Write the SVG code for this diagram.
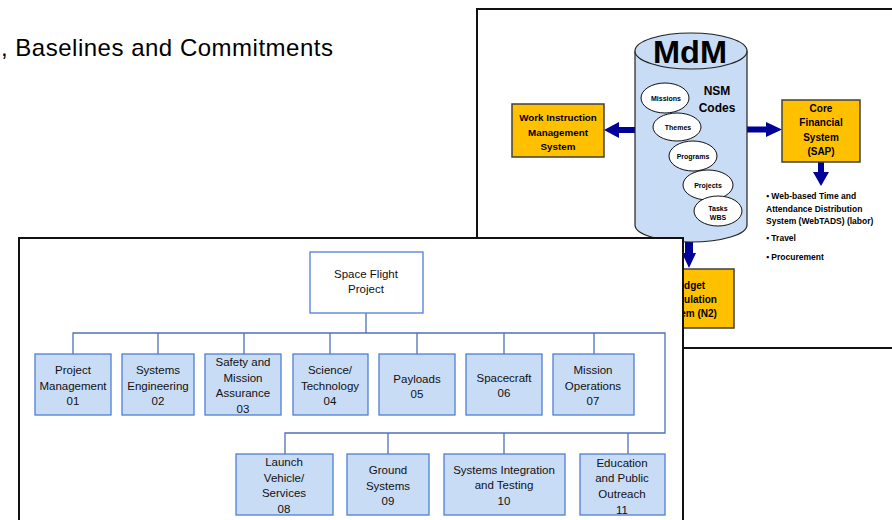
<svg xmlns="http://www.w3.org/2000/svg" width="892" height="520" viewBox="0 0 892 520">
<defs>
<style>
.bg{font-family:"Liberation Sans",Arial,sans-serif;fill:#000}
.panel{fill:#fff;stroke:#111;stroke-width:2}
.gold{fill:#FFC000;stroke:#404040;stroke-width:1.5}
.gt{font-family:"Liberation Sans",Arial,sans-serif;font-weight:bold;font-size:10px;fill:#000;text-anchor:middle}
.ell{fill:#fff;stroke:#111;stroke-width:1}
.et{font-family:"Liberation Sans",Arial,sans-serif;font-weight:bold;font-size:7px;fill:#000;text-anchor:middle}
.arr{fill:#000099}
.bul{font-family:"Liberation Sans",Arial,sans-serif;font-weight:bold;font-size:8.5px;fill:#000}
.ob{fill:#C9DCF6;stroke:#4F7FD6;stroke-width:1.3}
.ot{font-family:"Liberation Sans",Arial,sans-serif;font-size:11.5px;fill:#111;text-anchor:middle}
.conn{fill:none;stroke:#4F72B8;stroke-width:1.3}
</style>
<clipPath id="budgetClip"><rect x="684" y="240" width="80" height="100"/></clipPath>
</defs>

<text class="bg" x="1" y="56" font-size="24" textLength="332" lengthAdjust="spacing">, Baselines and Commitments</text>

<g id="mdm-panel">
<rect class="panel" x="477" y="9" width="430" height="339"/>

<g id="budget" clip-path="url(#budgetClip)">
<rect class="gold" x="642" y="269" width="92" height="59"/>
<text class="gt" x="688" y="288.5">Budget</text>
<text class="gt" x="688" y="302.5">Formulation</text>
<text class="gt" x="688" y="316.5">System (N2)</text>
</g>

<g id="arrows">
<path class="arr" d="M635,127 L619,127 L619,122 L604,130 L619,138 L619,133 L635,133 Z"/>
<path class="arr" d="M747,126.5 L766,126.5 L766,122 L782,129.5 L766,137 L766,132.5 L747,132.5 Z"/>
<path class="arr" d="M818,162 L818,172 L813,172 L821,186 L829,172 L824,172 L824,162 Z"/>
<path class="arr" d="M685,238 L685,253 L682,253 L689,268 L696,253 L693,253 L693,238 Z"/>
</g>

<g id="mdm">
<path d="M635,51 L635,225 A56,17 0 0 0 747,225 L747,51" fill="#C9DCF6" stroke="#222" stroke-width="1.2"/>
<ellipse cx="691" cy="51" rx="56" ry="18" fill="#C9DCF6" stroke="#222" stroke-width="1.2"/>
<text x="690" y="63" font-family="'Liberation Sans',Arial,sans-serif" font-weight="bold" font-size="32" text-anchor="middle" textLength="74" lengthAdjust="spacingAndGlyphs">MdM</text>
<text class="gt" x="717" y="94.5" style="font-size:12px">NSM</text>
<text class="gt" x="717" y="111.5" style="font-size:12px">Codes</text>
</g>

<g id="missions"><ellipse class="ell" cx="665" cy="98" rx="24" ry="15"/><text class="et" x="666" y="100.5">Missions</text></g>
<g id="themes"><ellipse class="ell" cx="677" cy="127" rx="24" ry="14"/><text class="et" x="678" y="129.5">Themes</text></g>
<g id="programs"><ellipse class="ell" cx="693" cy="156" rx="24" ry="15"/><text class="et" x="693" y="158.5">Programs</text></g>
<g id="projects"><ellipse class="ell" cx="708" cy="185" rx="25" ry="15"/><text class="et" x="708" y="187.5">Projects</text></g>
<g id="tasks"><ellipse class="ell" cx="718" cy="211" rx="24" ry="15"/><text class="et" x="718" y="211">Tasks</text><text class="et" x="718" y="219.5">WBS</text></g>

<g id="wims">
<rect class="gold" x="512" y="104" width="92" height="53"/>
<text class="gt" x="558" y="120.5" style="font-size:9.8px">Work Instruction</text>
<text class="gt" x="558" y="135.5" style="font-size:9.8px">Management</text>
<text class="gt" x="558" y="149.5" style="font-size:9.8px">System</text>
</g>

<g id="sap">
<rect class="gold" x="782" y="100" width="78" height="62"/>
<text class="gt" x="821" y="111.5">Core</text>
<text class="gt" x="821" y="125.5">Financial</text>
<text class="gt" x="821" y="140.5">System</text>
<text class="gt" x="821" y="154.5">(SAP)</text>
</g>

<g id="sap-list">
<text class="bul" x="766" y="199">▪ Web-based Time and</text>
<text class="bul" x="766" y="211.5">Attendance Distribution</text>
<text class="bul" x="766" y="224">System (WebTADS) (labor)</text>
<text class="bul" x="766" y="241">▪ Travel</text>
<text class="bul" x="766" y="260">▪ Procurement</text>
</g>
</g>

<g id="wbs-panel">
<rect class="panel" x="19" y="238" width="664" height="300"/>

<g id="connectors">
<path class="conn" d="M366,313 V333 M73,354 V333 H665 V433 H285 V454 M158,333 V354 M244,333 V354 M330,333 V354 M417,333 V354 M504,333 V354 M594,333 V354 M388,433 V454 M504,433 V454 M628,433 V454"/>
</g>

<g id="n00"><rect x="310" y="252" width="113" height="61" fill="#fff" stroke="#4F7FD6" stroke-width="1.3"/><text class="ot" x="366" y="278">Space Flight</text><text class="ot" x="366" y="293">Project</text></g>

<g id="n01"><rect class="ob" x="35" y="354" width="76" height="61"/><text class="ot" x="73" y="374">Project</text><text class="ot" x="73" y="390">Management</text><text class="ot" x="73" y="405">01</text></g>
<g id="n02"><rect class="ob" x="122" y="354" width="72" height="61"/><text class="ot" x="158" y="374">Systems</text><text class="ot" x="158" y="390">Engineering</text><text class="ot" x="158" y="405">02</text></g>
<g id="n03"><rect class="ob" x="205" y="354" width="76" height="61"/><text class="ot" x="243" y="366">Safety and</text><text class="ot" x="243" y="382">Mission</text><text class="ot" x="243" y="397">Assurance</text><text class="ot" x="243" y="413">03</text></g>
<g id="n04"><rect class="ob" x="293" y="354" width="75" height="61"/><text class="ot" x="330" y="374">Science/</text><text class="ot" x="330" y="390">Technology</text><text class="ot" x="330" y="405">04</text></g>
<g id="n05"><rect class="ob" x="379" y="354" width="76" height="61"/><text class="ot" x="417" y="383">Payloads</text><text class="ot" x="417" y="398">05</text></g>
<g id="n06"><rect class="ob" x="466" y="354" width="76" height="61"/><text class="ot" x="504" y="382">Spacecraft</text><text class="ot" x="504" y="397">06</text></g>
<g id="n07"><rect class="ob" x="553" y="354" width="81" height="61"/><text class="ot" x="593" y="374">Mission</text><text class="ot" x="593" y="390">Operations</text><text class="ot" x="593" y="405">07</text></g>

<g id="n08"><rect class="ob" x="236" y="454" width="97" height="61"/><text class="ot" x="284" y="466">Launch</text><text class="ot" x="284" y="482">Vehicle/</text><text class="ot" x="284" y="497">Services</text><text class="ot" x="284" y="513">08</text></g>
<g id="n09"><rect class="ob" x="347" y="454" width="82" height="61"/><text class="ot" x="388" y="474">Ground</text><text class="ot" x="388" y="490">Systems</text><text class="ot" x="388" y="505">09</text></g>
<g id="n10"><rect class="ob" x="444" y="454" width="121" height="61"/><text class="ot" x="504" y="474">Systems Integration</text><text class="ot" x="504" y="489">and Testing</text><text class="ot" x="504" y="505">10</text></g>
<g id="n11"><rect class="ob" x="580" y="454" width="85" height="61"/><text class="ot" x="622" y="467">Education</text><text class="ot" x="622" y="482">and Public</text><text class="ot" x="622" y="498">Outreach</text><text class="ot" x="622" y="514">11</text></g>
</g>
</svg>
